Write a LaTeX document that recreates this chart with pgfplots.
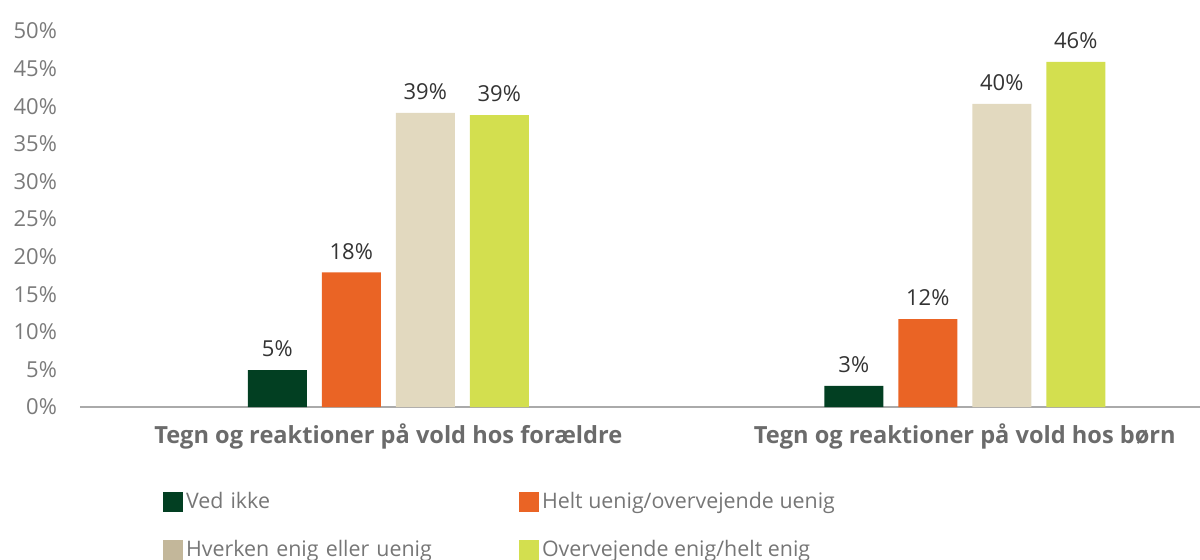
\documentclass[border=0pt]{standalone}
\usepackage{fontspec}
\setmainfont{Open Sans}
\usepackage{pgfplots}
\pgfplotsset{compat=1.18}
\definecolor{cDark}{HTML}{023F22}
\definecolor{cOrange}{HTML}{EA6425}
\definecolor{cBeige}{HTML}{E2D9BF}
\definecolor{cBeigeLeg}{HTML}{C3B79A}
\definecolor{cLime}{HTML}{D3DF4F}
\definecolor{cTick}{HTML}{7A7A7A}
\definecolor{cCat}{HTML}{6B6B6B}
\definecolor{cLeg}{HTML}{767676}
\definecolor{cLabel}{HTML}{333333}
\definecolor{cAxis}{HTML}{AAAAAA}
\begin{document}
\begin{tikzpicture}
\useasboundingbox (-40pt,-76pt) rectangle (560pt,203.5pt);
\begin{axis}[
  scale only axis, width=560pt, height=188pt,
  xmin=-0.5347, xmax=1.408, ymin=0, ymax=50,
  axis lines*=left,
  axis line style={-},
  y axis line style={draw=none},
  x axis line style={draw=cAxis, line width=0.8pt},
  major tick length=0pt,
  xtick={0,1},
  xticklabels={Tegn og reaktioner på vold hos forældre, Tegn og reaktioner på vold hos børn},
  xticklabel style={font=\fontsize{11.8}{13}\selectfont\bfseries, text=cCat, yshift=-5pt},
  ytick={0,5,...,50},
  yticklabel={\pgfmathprintnumber{\tick}\%},
  /pgf/number format/assume math mode=true,
  yticklabel style={font=\fontsize{11}{13}\selectfont, text=cTick, xshift=-8pt},
  clip=false,
  ybar, bar width=29.5pt,
  nodes near coords={\pgfmathprintnumber[fixed,precision=0]{\pgfplotspointmeta}\%},
  every node near coord/.append style={font=\fontsize{11}{13}\selectfont, text=cLabel, yshift=3pt},
  legend image code/.code={\fill[#1] (0pt,-5pt) rectangle (10pt,5pt);},
  legend columns=2,
  legend cell align=left,
  legend style={at={(0.0684,-0.207)}, anchor=north west, draw=none, fill=none,
    font=\fontsize{10.7}{13}\selectfont, text=cLeg,
    nodes={inner sep=1.5pt},
    row sep=11.5pt,
    /tikz/every even column/.append style={column sep=0pt},
    /tikz/column 2/.style={text width=165pt},
  },
]
\addplot[forget plot, fill=cDark, draw=none, bar shift=-55.5pt] coordinates {(0,4.9) (1,2.8)};
\addplot[forget plot, fill=cOrange, draw=none, bar shift=-18.5pt] coordinates {(0,17.9) (1,11.7)};
\addplot[forget plot, fill=cBeige, draw=none, bar shift=18.5pt] coordinates {(0,39.1) (1,40.3)};
\addplot[forget plot, fill=cLime, draw=none, bar shift=55.5pt] coordinates {(0,38.8) (1,45.9)};
\addlegendimage{fill=cDark, draw=none}
\addlegendentry{Ved ikke}
\addlegendimage{fill=cOrange, draw=none}
\addlegendentry{Helt uenig/overvejende uenig}
\addlegendimage{fill=cBeigeLeg, draw=none}
\addlegendentry{Hverken enig eller uenig}
\addlegendimage{fill=cLime, draw=none}
\addlegendentry{Overvejende enig/helt enig}
\end{axis}
\end{tikzpicture}
\end{document}
